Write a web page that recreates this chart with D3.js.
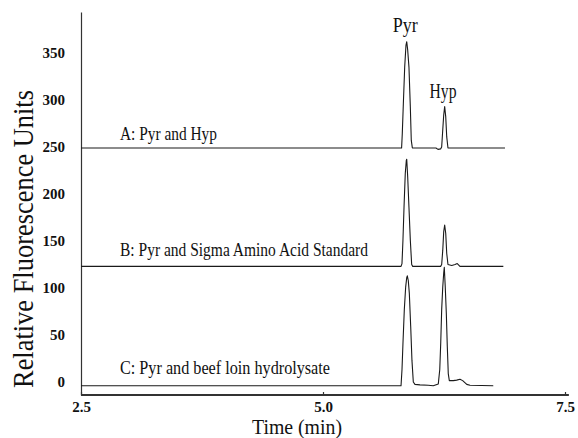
<!DOCTYPE html>
<html>
<head>
<meta charset="utf-8">
<script src="https://cdn.jsdelivr.net/npm/d3@7"></script>
<style>
  body { margin: 0; background: #fff; }
  svg { display: block; font-family: "Liberation Serif", "Times New Roman", serif; }
</style>
</head>
<body>
<svg id="chart" width="578" height="438"></svg>
<script>
// chromatogram traces, [time (min), relative fluorescence]
var traceA = [[2.5,249],[5.812,249],[5.819,264],[5.830,296],[5.844,335],[5.857,358],[5.865,362],
  [5.875,353],[5.888,335],[5.902,293],[5.912,257],[5.923,249],[6.167,249],[6.188,247.5],[6.215,248],
  [6.226,250],[6.237,268],[6.247,284],[6.257,293],[6.268,282],[6.278,261],[6.291,249],[6.88,249]];

var traceB = [[2.5,123],[5.806,123],[5.816,126],[5.826,151],[5.837,186],[5.850,222],[5.861,236],
  [5.865,237],[5.875,218],[5.888,186],[5.902,151],[5.916,125],[5.927,123],[6.215,123],[6.226,125],
  [6.237,140],[6.247,160],[6.257,167],[6.268,158],[6.278,137],[6.291,125],[6.330,124],[6.364,125],
  [6.387,126],[6.415,123],[6.863,123]];

var traceC = [[2.5,-4],[5.806,-4],[5.816,13],[5.826,41],[5.840,77],[5.854,101],[5.865,111],[5.871,113],
  [5.881,108],[5.892,94],[5.906,59],[5.919,23],[5.933,0],[5.950,-2.5],[6.002,-3],[6.088,-3.5],
  [6.139,-4],[6.191,-2],[6.206,13],[6.216,41],[6.226,77],[6.237,101],[6.247,116],[6.253,122],
  [6.263,101],[6.274,73],[6.284,38],[6.294,9],[6.305,1.5],[6.346,1.5],[6.381,2],[6.415,3],
  [6.443,1.5],[6.485,-2.5],[6.519,-3.5],[6.759,-4]];

var traceNames = ['A: Pyr and Hyp', 'B: Pyr and Sigma Amino Acid Standard', 'C: Pyr and beef loin hydrolysate'];
var peakNames = ['Pyr', 'Hyp'];
var peakTimes = [5.86, 6.25];
var xTicks = [2.5, 5.0, 7.5];
var yTicks = [0, 50, 100, 150, 200, 250, 300, 350];

var svg = d3.select('#chart');
var serif = '"Liberation Serif", "Times New Roman", serif';

// scales (the axis lines run a little past the labelled range)
var x = d3.scaleLinear().domain([2.5, 7.5]).range([81, 565]);
var y = d3.scaleLinear().domain([-13.8, 393.6]).range([395, 12]);

// Y AXIS
var yAxis = d3.axisLeft(y).tickValues(yTicks).tickSize(0).tickPadding(16)
  .tickFormat(d3.format('d'));
var gy = svg.append('g').attr('transform', 'translate(81,0)').call(yAxis);
gy.select('.domain').attr('stroke', '#333').attr('stroke-width', 1.2);
gy.selectAll('text')
  .attr('font-family', serif).attr('font-size', 15).attr('font-weight', 'bold')
  .attr('fill', '#111');

// X AXIS
var xAxis = d3.axisBottom(x).tickValues(xTicks).tickSize(-3).tickSizeOuter(0)
  .tickFormat(d3.format('.1f'));
var gx = svg.append('g').attr('transform', 'translate(0,' + y.range()[0] + ')').call(xAxis);
gx.select('.domain').remove();
gx.selectAll('.tick line').attr('stroke', '#333').attr('stroke-width', 1.2);
gx.selectAll('text')
  .attr('y', 17).attr('dy', 0)
  .attr('font-family', serif).attr('font-size', 15).attr('font-weight', 'bold')
  .attr('fill', '#111');
svg.append('line')
  .attr('x1', x(2.5)).attr('x2', x(7.54))
  .attr('y1', y.range()[0]).attr('y2', y.range()[0])
  .attr('stroke', '#333').attr('stroke-width', 2);

// axis titles, tall narrow type
svg.append('text')
  .attr('transform', 'translate(33,239) rotate(-90)')
  .attr('text-anchor', 'middle')
  .attr('font-size', 29)
  .attr('textLength', 298).attr('lengthAdjust', 'spacingAndGlyphs')
  .attr('fill', '#111')
  .text('Relative Fluorescence Units');

svg.append('text')
  .attr('x', 297).attr('y', 434)
  .attr('text-anchor', 'middle')
  .attr('font-size', 20)
  .attr('textLength', 90).attr('lengthAdjust', 'spacingAndGlyphs')
  .attr('fill', '#111')
  .text('Time (min)');

// TRACES
var line = d3.line()
  .x(function(d) { return x(d[0]); })
  .y(function(d) { return y(d[1]); });

svg.selectAll('path.trace')
  .data([traceA, traceB, traceC])
  .enter().append('path')
  .attr('class', 'trace')
  .attr('d', line)
  .attr('fill', 'none')
  .attr('stroke', '#1a1a1a')
  .attr('stroke-width', 1.1)
  .attr('stroke-linejoin', 'round');

// trace labels, sitting just above each baseline
var labelVals = [257, 134, 8.5];
var labelWidths = [97, 248, 210];
svg.selectAll('text.trace-label')
  .data(traceNames)
  .enter().append('text')
  .attr('class', 'trace-label')
  .attr('x', x(2.903))
  .attr('y', function(d, i) { return y(labelVals[i]); })
  .attr('font-size', 19)
  .attr('textLength', function(d, i) { return labelWidths[i]; })
  .attr('lengthAdjust', 'spacingAndGlyphs')
  .attr('fill', '#111')
  .text(function(d) { return d; });

// peak names over trace A
var peakLabelVals = [372, 302];
var peakLabelWidths = [25, 27];
svg.selectAll('text.peak-label')
  .data(peakNames)
  .enter().append('text')
  .attr('class', 'peak-label')
  .attr('x', function(d, i) { return x(peakTimes[i]) - 1; })
  .attr('y', function(d, i) { return y(peakLabelVals[i]); })
  .attr('text-anchor', 'middle')
  .attr('font-size', 20)
  .attr('textLength', function(d, i) { return peakLabelWidths[i]; })
  .attr('lengthAdjust', 'spacingAndGlyphs')
  .attr('fill', '#111')
  .text(function(d) { return d; });
</script>
</body>
</html>
